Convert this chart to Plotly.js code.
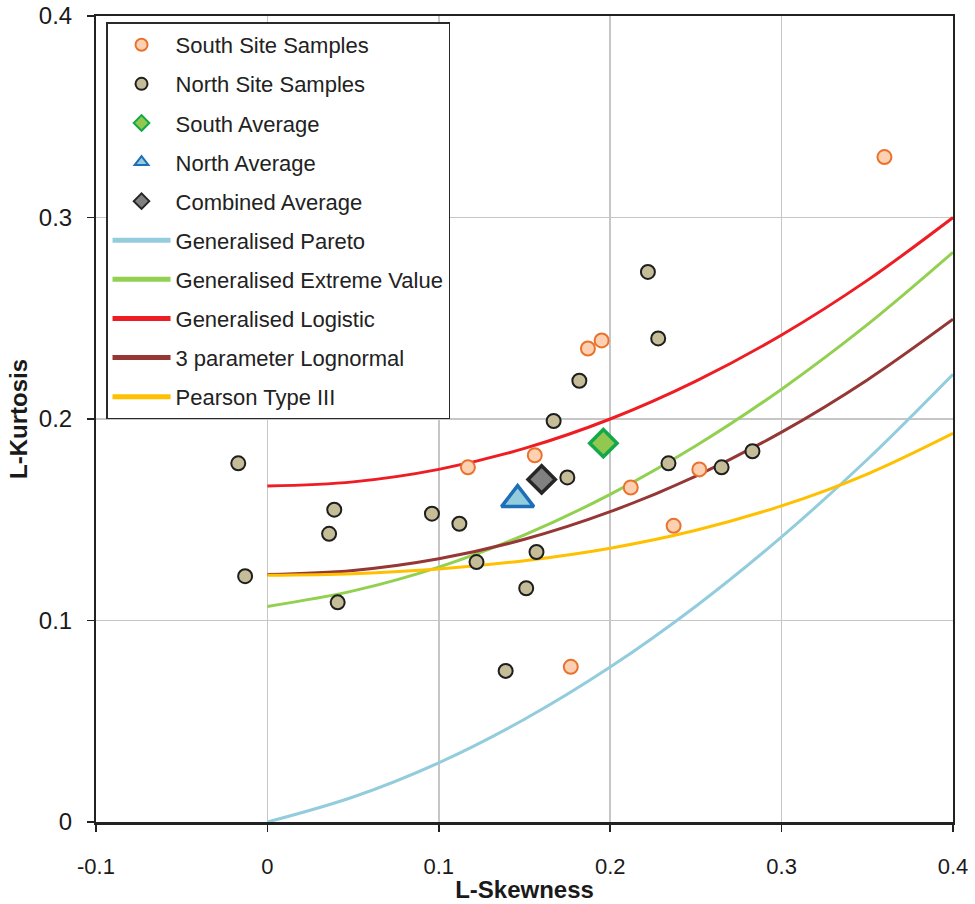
<!DOCTYPE html>
<html>
<head>
<meta charset="utf-8">
<script src="https://cdn.plot.ly/plotly-3.0.1.min.js"></script>
<style>
  html, body { margin: 0; padding: 0; background: #ffffff; }
  #chart { width: 975px; height: 904px; }
</style>
</head>
<body>
<div id="chart"></div>
<script>
// L-moment ratio diagram: sample L-skewness / L-kurtosis against theoretical curves

// Site samples
const southSkew = [0.360, 0.187, 0.195, 0.156, 0.212, 0.252, 0.237, 0.117, 0.177];
const southKurt = [0.330, 0.235, 0.239, 0.182, 0.166, 0.175, 0.147, 0.176, 0.077];

const northSkew = [-0.017, -0.013, 0.036, 0.039, 0.041, 0.096, 0.112, 0.122, 0.139, 0.151,
                   0.157, 0.167, 0.175, 0.182, 0.222, 0.228, 0.234, 0.265, 0.283];
const northKurt = [0.178, 0.122, 0.143, 0.155, 0.109, 0.153, 0.148, 0.129, 0.075, 0.116,
                   0.134, 0.199, 0.171, 0.219, 0.273, 0.240, 0.178, 0.176, 0.184];

// Averages
const southAvg = [0.196, 0.188];
const northAvg = [0.146, 0.160];
const combinedAvg = [0.160, 0.170];

// Distribution curves, tau4 read along tau3
const curveSkew = [0, 0.05, 0.10, 0.15, 0.20, 0.25, 0.30, 0.35, 0.40];
const gpaKurt = [0.000, 0.0124, 0.0294, 0.0510, 0.0769, 0.1071, 0.1415, 0.1799, 0.2222];
const gevKurt = [0.1070, 0.1147, 0.1265, 0.1425, 0.1626, 0.1867, 0.2148, 0.2468, 0.2827];
const gloKurt = [0.1667, 0.1688, 0.1750, 0.1854, 0.2000, 0.2188, 0.2417, 0.2688, 0.3000];
const ln3Kurt = [0.1228, 0.1248, 0.1306, 0.1403, 0.1540, 0.1717, 0.1935, 0.2194, 0.2495];
const pe3Kurt = [0.1224, 0.1232, 0.1255, 0.1297, 0.1359, 0.1448, 0.1569, 0.1727, 0.1929];

const xTicks = [-0.1, 0, 0.1, 0.2, 0.3, 0.4];
const xTickText = ['-0.1', '0', '0.1', '0.2', '0.3', '0.4'];
const yTicks = [0, 0.1, 0.2, 0.3, 0.4];
const yTickText = ['0', '0.1', '0.2', '0.3', '0.4'];

function curve(name, y, color, rank) {
  return {
    type: 'scatter', mode: 'lines', name: name,
    x: curveSkew, y: y,
    line: { color: color, width: 3, shape: 'spline' },
    legendgroup: name, legendrank: rank, hoverinfo: 'skip'
  };
}

function points(name, x, y, symbol, size, fill, edge, lw, rank) {
  return {
    type: 'scatter', mode: 'markers', name: name,
    x: x, y: y,
    marker: { symbol: symbol, size: size, color: fill, line: { color: edge, width: lw } },
    legendgroup: name, legendrank: rank
  };
}

const data = [
  curve('Generalised Pareto', gpaKurt, '#93cddd', 6),
  curve('Generalised Extreme Value', gevKurt, '#92d050', 7),
  curve('Generalised Logistic', gloKurt, '#ee1d23', 8),
  curve('3 parameter Lognormal', ln3Kurt, '#953735', 9),
  curve('Pearson Type III', pe3Kurt, '#ffc000', 10),
  points('South Site Samples', southSkew, southKurt, 'circle', 14, '#fcd0b0', '#e9722e', 2, 1),
  points('North Site Samples', northSkew, northKurt, 'circle', 14, '#c4bd97', '#1e1e1e', 2, 2),
  points('South Average', [southAvg[0]], [southAvg[1]], 'diamond', 21, '#92c84f', '#13a84a', 3.5, 3),
  points('North Average', [northAvg[0]], [northAvg[1]], 'triangle-up', 28, '#93cddd', '#1f6fb8', 3.5, 4),
  points('Combined Average', [combinedAvg[0]], [combinedAvg[1]], 'diamond', 21, '#808080', '#262626', 3.5, 5)
];

const family = 'Liberation Sans, Arial, sans-serif';
const titleFont = { family: family, size: 24, color: '#1a1a1a', weight: 'bold' };

const layout = {
  width: 975, height: 904,
  margin: { l: 96, r: 22, t: 16, b: 82 },
  paper_bgcolor: '#ffffff', plot_bgcolor: '#ffffff',
  showlegend: true,
  legend: {
    x: 0.0117, y: 0.992, xanchor: 'left', yanchor: 'top',
    bgcolor: '#ffffff', bordercolor: '#2a2a2a', borderwidth: 1.5,
    font: { family: family, size: 22, color: '#222222' },
    itemsizing: 'constant', itemwidth: 58,
    traceorder: 'grouped', tracegroupgap: 7.5
  },
  xaxis: {
    range: [-0.1, 0.4], tickvals: xTicks, ticktext: xTickText,
    showgrid: true, gridcolor: '#c6c6c6', gridwidth: 1.5,
    zeroline: false,
    showline: true, linecolor: '#222222', linewidth: 2.5, mirror: true,
    ticks: 'outside', ticklen: 7, tickwidth: 1.5, tickcolor: '#222222',
    ticklabelstandoff: 16,
    tickfont: { family: family, size: 22, color: '#1a1a1a' },
    title: { text: 'L-Skewness', font: titleFont, standoff: 4 }
  },
  yaxis: {
    range: [0, 0.4], tickvals: yTicks, ticktext: yTickText,
    showgrid: true, gridcolor: '#c6c6c6', gridwidth: 1.5,
    zeroline: false,
    showline: true, linecolor: '#222222', linewidth: 2, mirror: true,
    ticks: 'outside', ticklen: 7, tickwidth: 1.5, tickcolor: '#222222',
    ticklabelstandoff: 10,
    tickfont: { family: family, size: 24, color: '#1a1a1a' },
    title: { text: 'L-Kurtosis', font: titleFont, standoff: 4 }
  }
};

Plotly.newPlot('chart', data, layout, { displayModeBar: false, staticPlot: true });
</script>
</body>
</html>
